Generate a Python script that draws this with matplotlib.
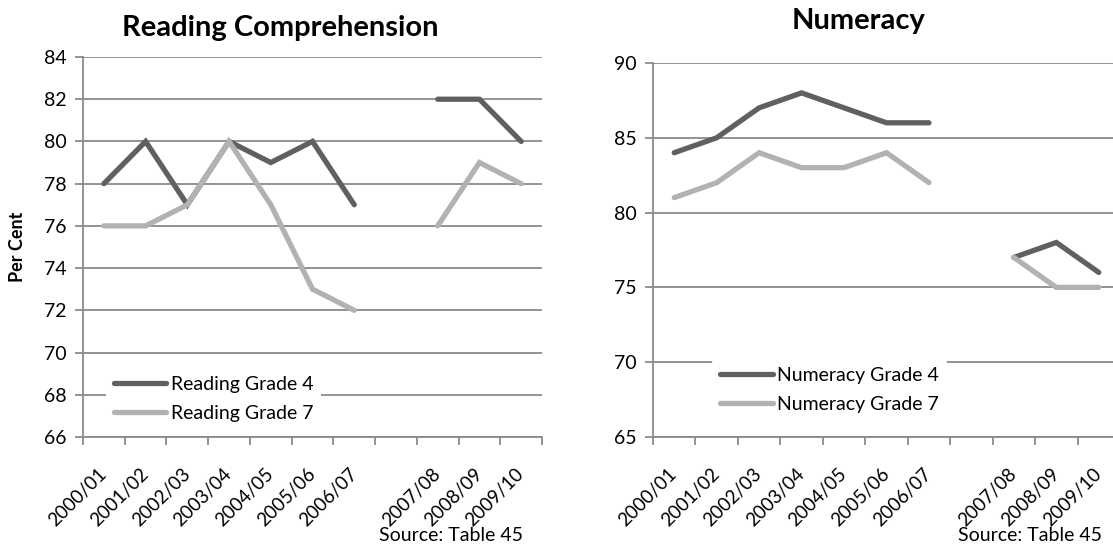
import numpy as np
import matplotlib.pyplot as plt
from matplotlib.transforms import ScaledTranslation

plt.rcParams['font.family'] = ['Lato', 'DejaVu Sans']

years = ["2000/01", "2001/02", "2002/03", "2003/04", "2004/05", "2005/06", "2006/07",
         "", "2007/08", "2008/09", "2009/10"]

reading_g4 = [78, 80, 77, 80, 79, 80, 77, np.nan, 82, 82, 80]
reading_g7 = [76, 76, 77, 80, 77, 73, 72, np.nan, 76, 79, 78]
numeracy_g4 = [84, 85, 87, 88, 87, 86, 86, np.nan, 77, 78, 76]
numeracy_g7 = [81, 82, 84, 83, 83, 84, 82, np.nan, 77, 75, 75]

DARK = "#606060"
LIGHT = "#b2b2b2"
GRID = "#8a8a8a"
FS = 14


def style_axes(ax, ylim, ystep):
    x = np.arange(len(years))
    ax.set_xlim(-0.5, len(years) - 0.5)
    ax.set_ylim(*ylim)
    ax.set_yticks(np.arange(ylim[0], ylim[1] + 0.1, ystep))
    ax.set_xticks(x)
    ax.set_xticklabels(years, rotation=45, ha='right', va='top')
    ax.set_xticks(np.arange(-0.5, len(years)), minor=True)
    ax.tick_params(axis='x', which='major', length=0, pad=20, labelsize=13.5)
    ax.tick_params(axis='x', which='minor', length=6, width=1.3, color=GRID, direction='out')
    ax.tick_params(axis='y', length=6, width=1.3, color=GRID, labelsize=FS, pad=6)
    shift = ScaledTranslation(6 / 100, 0, ax.figure.dpi_scale_trans)
    for lbl in ax.get_xticklabels():
        lbl.set_transform(lbl.get_transform() + shift)
    ax.yaxis.grid(True, color=GRID, linewidth=1.3)
    ax.set_axisbelow(True)
    for s in ['top', 'right']:
        ax.spines[s].set_visible(False)
    for s in ['left', 'bottom']:
        ax.spines[s].set_color(GRID)
        ax.spines[s].set_linewidth(1.3)


def draw_lines(ax, g4, g7, lbl4, lbl7):
    x = np.arange(len(years))
    ax.plot(x, g4, color=DARK, lw=3.8, solid_capstyle='round', solid_joinstyle='miter', label=lbl4)
    ax.plot(x, g7, color=LIGHT, lw=3.8, solid_capstyle='round', solid_joinstyle='miter', label=lbl7)


def add_legend(ax, anchor):
    leg = ax.legend(loc='lower left', bbox_to_anchor=anchor, fontsize=FS, frameon=True,
                    handlelength=2.7, handletextpad=0.25, labelspacing=0.62, borderpad=0.4,
                    borderaxespad=0)
    leg.get_frame().set_facecolor('white')
    leg.get_frame().set_edgecolor('none')
    leg.get_frame().set_alpha(1)
    return leg


fig = plt.figure(figsize=(11.13, 5.48), dpi=100)

ax1 = fig.add_axes([0.0746, 0.2026, 0.4124, 0.6934])
draw_lines(ax1, reading_g4, reading_g7, "Reading Grade 4", "Reading Grade 7")
style_axes(ax1, (66, 84), 2)
ax1.set_ylabel("Per Cent", fontsize=13, fontweight='bold')
ax1.yaxis.set_label_coords(-0.125, 0.5)
add_legend(ax1, (0.05, 0.02))
fig.text(0.252, 0.948, "Reading Comprehension", fontsize=21, fontweight='bold', ha='center', va='center')
fig.text(0.47, 0.022, "Source: Table 45", fontsize=FS, ha='right', va='center')

ax2 = fig.add_axes([0.5867, 0.2026, 0.4196, 0.6825])
draw_lines(ax2, numeracy_g4, numeracy_g7, "Numeracy Grade 4", "Numeracy Grade 7")
style_axes(ax2, (65, 90), 5)
add_legend(ax2, (0.127, 0.043))
fig.text(0.771, 0.962, "Numeracy", fontsize=21, fontweight='bold', ha='center', va='center')
fig.text(0.99, 0.022, "Source: Table 45", fontsize=FS, ha='right', va='center')

fig.savefig("out.png", dpi=100)
